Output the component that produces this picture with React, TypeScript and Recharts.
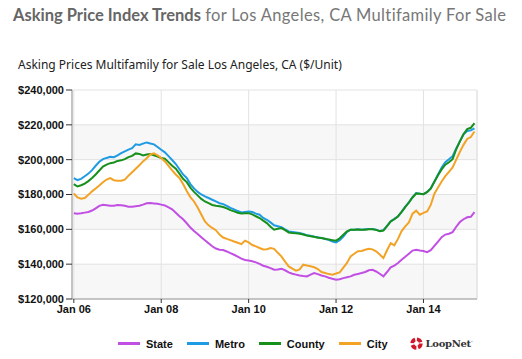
import React from "react";
import {
  LineChart,
  Line,
  XAxis,
  YAxis,
  CartesianGrid,
  ReferenceLine,
} from "recharts";

// monthly asking price index, $k per unit, Jan 2006 .. Mar 2015
const stateValues = [
  169.3, 169, 169.2, 169.6, 170, 170.8, 172, 173.5, 174.1, 173.8, 173.5, 173.6,
  174, 173.8, 173.5, 173, 173, 173.3, 173.5, 174.2, 175, 175.1, 174.9, 174.7,
  174.2, 173.7, 172.6, 171.5, 169.5, 167.5, 165.8, 163.5, 161, 159, 157.3, 155.5,
  153.7, 152, 150.3, 149, 148.3, 148.1, 147.3, 146.3, 145.4, 144.3, 143.2, 142.4,
  142.1, 141.7, 141, 140.2, 139.1, 138.5, 137.7, 136.8, 137, 137.4, 136.5, 135.3,
  134.5, 134, 133.5, 133.2, 133, 134, 134.9, 134.3, 133.5, 133, 132.2, 131.6,
  131.1, 131.3, 132, 132.5, 133, 133.9, 134.4, 134.9, 135.5, 136.5, 136.8, 135.8,
  134.5, 133, 135.5, 138.2, 139.2, 140.7, 142.5, 144.2, 146, 147.8, 148.3, 147.8,
  147.5, 146.9, 148, 150.5, 153, 155.5, 157, 157.5, 158.4, 161.5, 164.2, 165.8,
  166.9, 167.2, 169.9,
];
const metroValues = [
  189.4, 188.3, 189, 190.5, 192, 194, 196.5, 198.8, 200.3, 201, 201.6, 201.4,
  202.5, 203.8, 204.8, 205.8, 206.6, 208.8, 208.4, 209.2, 209.9, 209.3, 208.8, 207.3,
  205.7, 204.2, 202, 199.8, 197.5, 194.5, 191.5, 189.5, 186, 183.5, 181.5, 180,
  178.9, 178, 177, 176, 175, 174.5, 173.5, 172.3, 171.5, 170.5, 169.7, 170,
  170.3, 170, 169, 168.4, 166.5, 165.5, 164, 162.3, 161.8, 161.3, 160, 158.8,
  158.5, 158.2, 157.9, 157.3, 156.6, 156.3, 155.8, 155.4, 155, 154.5, 154, 153,
  152.5, 153.8, 155.9, 158.5, 159.8, 159.8, 160, 159.8, 160, 160.2, 160.2, 159.8,
  159, 159.5, 162, 164.6, 166, 167.5, 170, 173, 175.5, 178.5, 180.8, 180.5,
  180.2, 181.5, 183.5, 187.5, 191.5, 195.5, 198.5, 200.2, 202, 206.5, 210.5, 214.6,
  216.5, 216.8, 218,
];
const countyValues = [
  186, 184.6, 185.3, 186.3, 187.7, 189.5, 191.5, 193.8, 196, 197.2, 198, 198.4,
  199.3, 199.6, 200.3, 201.5, 202.2, 203.6, 203.3, 202.4, 203, 203.2, 202.5, 201.8,
  200.9, 200.5, 198.6, 196.5, 194.8, 192, 189, 187.1, 184, 181.5, 179.5, 177.5,
  176, 175, 174, 173.5, 173.2, 172.8, 172, 171, 170.3, 169.5, 169.1, 169.2,
  169.3, 168.6, 167.5, 166.5, 165, 163.6, 161.5, 159.8, 160.3, 160.7, 159.5, 158.2,
  157.9, 157.7, 157.5, 157, 156.4, 156, 155.7, 155.2, 155, 154.6, 154.1, 153.8,
  153.5, 154.9, 156.9, 158.8, 159.8, 159.8, 159.9, 159.7, 159.8, 160, 160.1, 159.7,
  158.9, 159.3, 161.8, 164.5, 165.8, 167.4, 170, 172.8, 175.4, 178.3, 180.6, 180.4,
  180.2, 181.3, 183.4, 187.3, 191, 194.4, 197.1, 198.5, 200.3, 206, 210.5, 214.6,
  217.5, 218.3, 221,
];
const cityValues = [
  180.6, 178.3, 177.6, 178, 179.8, 181.8, 183.5, 185.2, 187, 188.6, 189.4, 188.2,
  187.9, 187.9, 188.5, 190.8, 192.8, 194.8, 196.8, 199, 200.8, 203, 203.7, 202.5,
  201, 199, 196.5, 193.8, 191.5, 189.5, 186, 182, 178.5, 176, 172.5, 168.5,
  164.5, 162.3, 160.8, 159.5, 157, 155.3, 154.5, 153.8, 153, 152.3, 151.5, 153.5,
  152.5, 151, 150.2, 149.3, 148.4, 148.6, 149.3, 148.8, 146.5, 144.5, 141.5, 138.7,
  137.5, 136.3, 137, 139.7, 139.2, 138.8, 138.2, 137.2, 135.5, 134.9, 134.3, 134,
  134.6, 135.3, 138, 140.7, 144.5, 146, 147.4, 147.6, 148.3, 148.9, 148.5, 147.4,
  145.5, 143.5, 148, 152.1, 150.8, 154.5, 159, 161.7, 164, 169, 170.7, 168.4,
  169.5, 170.3, 174, 180.5, 184, 187.5, 190.5, 193, 195.5, 200, 204.5, 208.5,
  211.9, 213, 216.2,
];

const xTicks = [0, 24, 48, 72, 96];
const xTickLabels = ["Jan 06", "Jan 08", "Jan 10", "Jan 12", "Jan 14"];
const yTicks = [120000, 140000, 160000, 180000, 200000, 220000, 240000];
const xMin = -0.5;
const xMax = 110.7;

const series = [
  { key: "state", name: "State", color: "#c24fe3", values: stateValues },
  { key: "metro", name: "Metro", color: "#1e9be2", values: metroValues },
  { key: "county", name: "County", color: "#17901b", values: countyValues },
  { key: "city", name: "City", color: "#f2a325", values: cityValues },
];

const data = stateValues.map((_, i) => {
  const row: Record<string, number> = { m: i };
  series.forEach((s) => {
    row[s.key] = s.values[i] * 1000;
  });
  return row;
});

const axisFont = {
  fontFamily: "Arial, 'Liberation Sans', sans-serif",
  fontSize: 11,
  fontWeight: 700,
  fill: "#111",
};

function LoopNetLogo() {
  return (
    <span style={{ display: "inline-flex", alignItems: "center", marginLeft: 22 }}>
      <svg width="13" height="13" viewBox="0 0 14 14">
        <circle
          cx="7"
          cy="7"
          r="4.6"
          fill="none"
          stroke="#d0172b"
          strokeWidth="4"
          strokeDasharray="5.2 2"
        />
      </svg>
      <span
        style={{
          fontFamily: "'DejaVu Serif', 'Liberation Serif', serif",
          fontSize: 10,
          color: "#333",
          marginLeft: 3,
          letterSpacing: -0.3,
        }}
      >
        LoopNet<sup style={{ fontSize: 5 }}>·</sup>
      </span>
    </span>
  );
}

export default function App() {
  return (
    <div
      style={{
        position: "absolute",
        left: 0,
        top: 0,
        width: 522,
        height: 359,
        background: "#fff",
        overflow: "hidden",
      }}
    >
      <div
        style={{
          position: "absolute",
          left: 13,
          top: 5,
          fontFamily: "Lato, 'Open Sans', sans-serif",
          fontSize: 16.5,
          color: "#777",
          whiteSpace: "nowrap",
        }}
      >
        <span style={{ fontWeight: 700, color: "#666" }}>Asking Price Index Trends</span>{" "}
        <span style={{ letterSpacing: 0.35 }}>for Los Angeles, CA Multifamily For Sale</span>
      </div>
      <div
        style={{
          position: "absolute",
          left: 18,
          top: 56,
          fontFamily: "'Noto Sans', 'DejaVu Sans', sans-serif",
          fontSize: 12,
          color: "#222",
          whiteSpace: "nowrap",
        }}
      >
        Asking Prices Multifamily for Sale Los Angeles, CA ($/Unit)
      </div>

      <div style={{ position: "absolute", left: 0, top: 0 }}>
        <LineChart
          width={522}
          height={359}
          data={data}
          margin={{ top: 90, right: 45, bottom: 30, left: 0 }}
        >
          <CartesianGrid
            stroke="#e2e2e2"
            horizontalFill={["#ffffff", "#f7f7f7"]}
            fillOpacity={1}
          />
          <XAxis
            dataKey="m"
            type="number"
            domain={[xMin, xMax]}
            ticks={xTicks}
            tickFormatter={(v: number) => xTickLabels[xTicks.indexOf(v)] ?? ""}
            tick={axisFont}
            tickSize={4}
            tickLine={{ stroke: "#333" }}
            axisLine={{ stroke: "#999" }}
            height={30}
            allowDataOverflow
          />
          <YAxis
            domain={[120000, 240000]}
            ticks={yTicks}
            tickFormatter={(v: number) => "$" + v.toLocaleString("en-US")}
            tick={axisFont}
            tickSize={6}
            tickLine={{ stroke: "#333" }}
            axisLine={{ stroke: "#999" }}
            width={72}
            interval={0}
          />
          <ReferenceLine x={xMax} stroke="#e2e2e2" ifOverflow="visible" />
          {series.map((s) => (
            <Line
              key={s.key}
              type="linear"
              dataKey={s.key}
              name={s.name}
              stroke={s.color}
              strokeWidth={2}
              dot={false}
              isAnimationActive={false}
            />
          ))}
        </LineChart>
      </div>

      <div
        style={{
          position: "absolute",
          left: 118,
          top: 337,
          display: "flex",
          alignItems: "center",
          fontFamily: "Arial, 'Liberation Sans', sans-serif",
          fontSize: 11,
          fontWeight: 700,
          color: "#111",
          whiteSpace: "nowrap",
        }}
      >
        {series.map((s, i) => (
          <span
            key={s.key}
            style={{ display: "inline-flex", alignItems: "center", marginLeft: i === 0 ? 0 : 14 }}
          >
            <span
              style={{
                display: "inline-block",
                width: 22,
                height: 3,
                background: s.color,
                marginRight: 6,
              }}
            />
            {s.name}
          </span>
        ))}
        <LoopNetLogo />
      </div>
    </div>
  );
}
